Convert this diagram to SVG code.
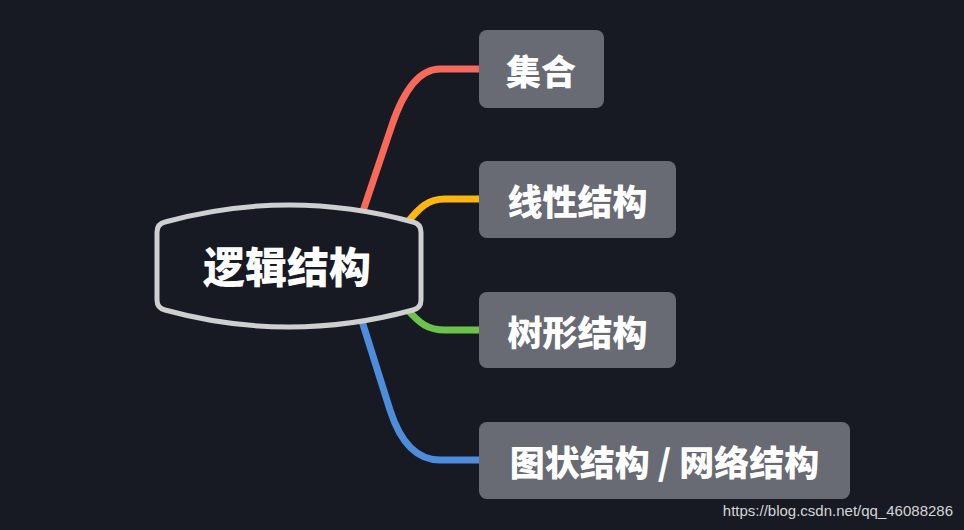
<svg xmlns="http://www.w3.org/2000/svg" width="964" height="530" viewBox="0 0 964 530">
<style>
.conn{fill:none;stroke-width:7;stroke-linecap:butt}
.box{fill:#686a74}
.lbl{font-family:"Noto Sans CJK SC","Noto Sans",sans-serif;font-weight:900;fill:#ffffff;text-anchor:middle;dominant-baseline:central}
</style>
<rect width="964" height="530" fill="#171923"/>
<g id="connectors">
<path class="conn" stroke="#f8695a" d="M 362,214 L 392,125 Q 411,69 440,69 L 481,69"/>
<path class="conn" stroke="#fdb60d" d="M 406,224 C 420,207 428,199 445,199 L 481,199"/>
<path class="conn" stroke="#6cc24a" d="M 406,308 C 420,324 428,330 445,330 L 481,330"/>
<path class="conn" stroke="#4e8ddb" d="M 361,318 L 390,410 Q 406,460 440,460 L 481,460"/>
</g>
<g id="root">
<path d="M 157,232 Q 157,224 165,222 Q 289,188 413,222 Q 421,224 421,232 L 421,300 Q 421,308 413,310 Q 289,344 165,310 Q 157,308 157,300 Z" fill="#171923" stroke="#cfcfcf" stroke-width="5"/>
<text class="lbl" x="287" y="264" font-size="42">逻辑结构</text>
</g>
<g id="n1">
<rect class="box" x="479" y="30" width="125" height="78" rx="8"/>
<text class="lbl" x="541" y="69" font-size="35">集合</text>
</g>
<g id="n2">
<rect class="box" x="479" y="161" width="197" height="77" rx="8"/>
<text class="lbl" x="577.5" y="199.5" font-size="35">线性结构</text>
</g>
<g id="n3">
<rect class="box" x="479" y="292" width="197" height="76" rx="8"/>
<text class="lbl" x="577.5" y="330" font-size="35">树形结构</text>
</g>
<g id="n4">
<rect class="box" x="479" y="422" width="371" height="77" rx="8"/>
<text class="lbl" x="664.5" y="460.5" font-size="35">图状结构 / 网络结构</text>
</g>
<text x="953" y="516" font-family="Liberation Sans, Arial, sans-serif" font-size="15" fill="#d6d6d6" text-anchor="end">https://blog.csdn.net/qq_46088286</text>
</svg>
